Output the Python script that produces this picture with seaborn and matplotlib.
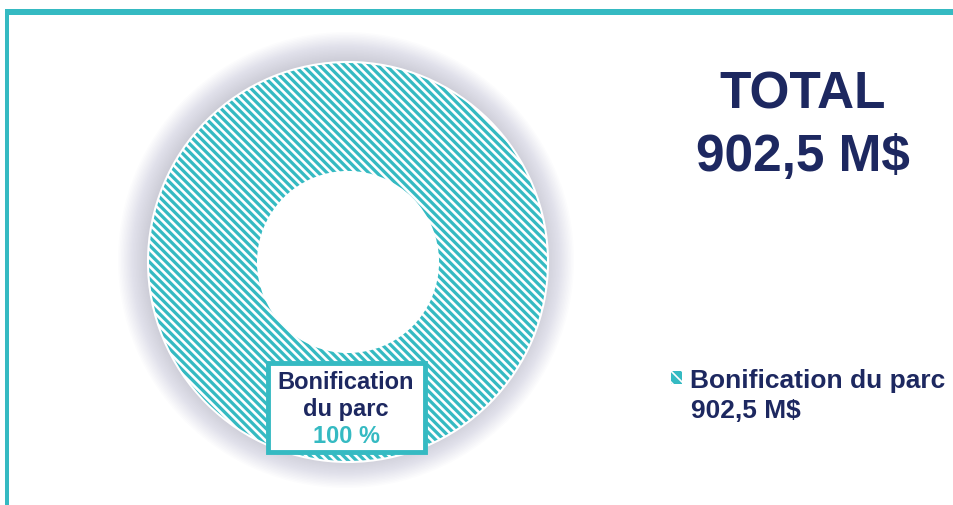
import numpy as np
import matplotlib
matplotlib.use("Agg")
import matplotlib.pyplot as plt
import matplotlib.patches as mpatches
import seaborn as sns

# data
categories = ["Bonification du parc"]
values = [902.5]
total_label = "902,5 M$"

TEAL = "#35BAC2"
NAVY = "#1D2860"

sns.set_theme(style="white")
plt.rcParams["font.family"] = ["Liberation Sans", "DejaVu Sans"]
plt.rcParams["hatch.linewidth"] = 1.9

fig = plt.figure(figsize=(9.54, 5.06), dpi=100)
fig.patch.set_facecolor("white")

# teal frame (top and left)
fig.add_artist(mpatches.Rectangle((5 / 954, 0), 4 / 954, 1 - 10 / 506, transform=fig.transFigure,
                                  color=TEAL, lw=0, zorder=5))
fig.add_artist(mpatches.Rectangle((5 / 954, 1 - 16 / 506), 1, 6 / 506, transform=fig.transFigure,
                                  color=TEAL, lw=0, zorder=5))

# donut axes: centre (348, 263) px, outer radius 200 px
cx, cy, r = 348, 263, 200
span = 1.25 * r
ax = fig.add_axes([(cx - span) / 954, (506 - cy - span) / 506, 2 * span / 954, 2 * span / 506])
ax.axis("off")

# soft shadow behind the ring
for rr in np.linspace(1.14, 1.0, 20):
    ax.add_patch(mpatches.Circle((-0.01, 0.01), rr, color="#8C8CAA", alpha=0.022, lw=0, zorder=0))
ax.add_patch(mpatches.Circle((0, 0), 0.45, color="white", lw=0, zorder=1))

wedges, _ = ax.pie(values, radius=1.0, startangle=90, counterclock=False,
                   colors=[TEAL],
                   wedgeprops=dict(width=0.55, edgecolor="white", linewidth=1.5, hatch="\\\\\\\\"))
for w in wedges:
    w.set_zorder(2)
ax.set_xlim(-1.25, 1.25)
ax.set_ylim(-1.25, 1.25)

# label box on the ring
share = values[0] / sum(values) * 100
fig.add_artist(mpatches.Rectangle((268 / 954, 1 - 453 / 506), 157 / 954, 89 / 506,
                                  transform=fig.transFigure, facecolor="white",
                                  edgecolor=TEAL, lw=3.5, zorder=6))
fig.text(346 / 954, 1 - 396 / 506, "Bonification\ndu parc", ha="center", va="center",
         fontsize=17, fontweight="bold", color=NAVY, linespacing=1.25, zorder=7)
fig.text(347 / 954, 1 - 437 / 506, f"{share:.0f} %", ha="center", va="center",
         fontsize=17, fontweight="bold", color=TEAL, zorder=7)

# total
fig.text(803 / 954, 1 - 95 / 506, "TOTAL", ha="center", va="center",
         fontsize=37, fontweight="bold", color=NAVY)
fig.text(803 / 954, 1 - 158 / 506, total_label, ha="center", va="center",
         fontsize=37, fontweight="bold", color=NAVY)

# legend (proxy handle with the wedge's fill and hatch, no thick border)
handles = [mpatches.Patch(facecolor=w.get_facecolor(), edgecolor="white", lw=0,
                          hatch="\\\\\\") for w in wedges]
plt.rcParams["hatch.linewidth"] = 1.2
leg = fig.legend(handles=handles, labels=categories, loc="center left",
                 bbox_to_anchor=(671 / 954, 1 - 381 / 506), frameon=False,
                 handlelength=0.4, handleheight=0.4, handletextpad=0.32,
                 prop=dict(size=19, weight="bold"), labelcolor=NAVY,
                 borderpad=0, borderaxespad=0)
fig.text(691 / 954, 1 - 411 / 506, total_label, ha="left", va="center",
         fontsize=19, fontweight="bold", color=NAVY)

fig.savefig("out.png", dpi=100, facecolor="white")
